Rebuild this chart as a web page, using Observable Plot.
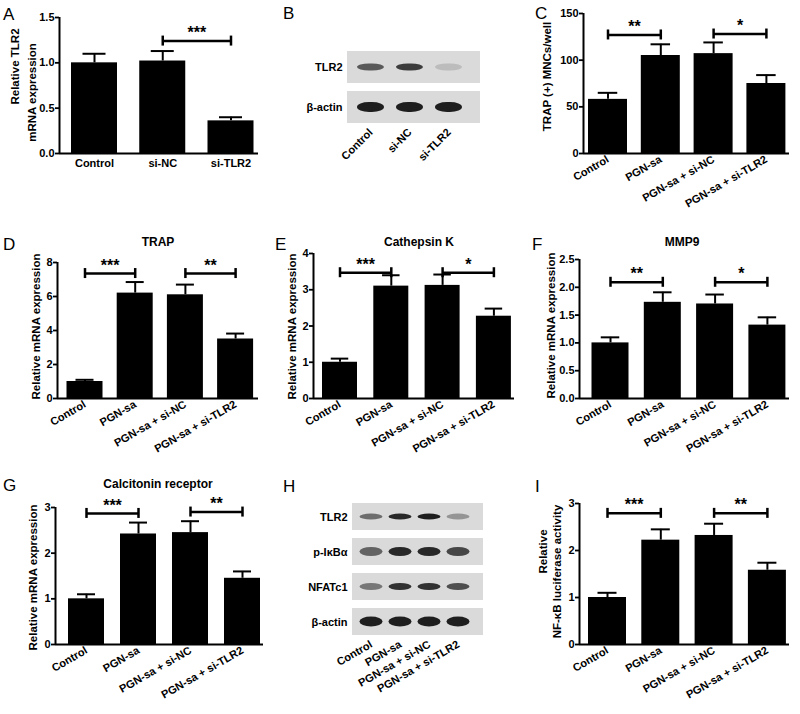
<!DOCTYPE html>
<html><head><meta charset="utf-8">
<script src="https://cdn.jsdelivr.net/npm/d3@7"></script>
<script src="https://cdn.jsdelivr.net/npm/@observablehq/plot@0.6"></script>
<style>
body{margin:0;background:#fff;}
#fig{position:relative;width:800px;height:714px;overflow:hidden;background:#fff;font-family:"Liberation Sans",Arial,sans-serif;color:#000;}
.cell{position:absolute;}
.cell svg{display:block;}
.letter{position:absolute;font-size:17px;line-height:17px;}
.title{position:absolute;width:200px;text-align:center;font-weight:bold;font-size:12px;line-height:14px;}
g[aria-label^="y-axis"] line, g[aria-label^="y-axis"] path{stroke-width:1.8px;}
</style></head><body><div id="fig"></div>
<script>
// ---------------- data ----------------
const groups3 = ["Control", "si-NC", "si-TLR2"];
const groups4 = ["Control", "PGN-sa", "PGN-sa + si-NC", "PGN-sa + si-TLR2"];

const tlr2Mean = [1.00, 1.02, 0.36];
const tlr2Err  = [0.10, 0.11, 0.04];
const trapCellMean = [58, 105, 107, 75];
const trapCellErr  = [7, 12, 12, 9];
const trapMean = [1.0, 6.2, 6.1, 3.5];
const trapErr  = [0.1, 0.65, 0.6, 0.32];
const ctskMean = [1.0, 3.1, 3.12, 2.27];
const ctskErr  = [0.1, 0.3, 0.3, 0.21];
const mmp9Mean = [1.0, 1.73, 1.70, 1.32];
const mmp9Err  = [0.1, 0.18, 0.17, 0.14];
const calcrMean = [1.0, 2.42, 2.45, 1.45];
const calcrErr  = [0.1, 0.25, 0.25, 0.15];
const nfkbMean = [1.0, 2.22, 2.32, 1.58];
const nfkbErr  = [0.1, 0.23, 0.25, 0.16];

// significance brackets: [from group, to group, bracket height, label]
const sigA = [[1, 2, 1.24, "***"]];
const sigC = [[0, 1, 127, "**"], [2, 3, 128, "*"]];
const sigD = [[0, 1, 7.35, "***"], [2, 3, 7.35, "**"]];
const sigE = [[0, 1, 3.47, "***"], [2, 3, 3.47, "*"]];
const sigF = [[0, 1, 2.09, "**"], [2, 3, 2.09, "*"]];
const sigG = [[0, 1, 2.87, "***"], [2, 3, 2.9, "**"]];
const sigI = [[0, 1, 2.79, "***"], [2, 3, 2.79, "**"]];

// y tick values
const ticksA = [0, 0.5, 1.0, 1.5];
const ticksC = [0, 50, 100, 150];
const ticksD = [0, 2, 4, 6, 8];
const ticksE = [0, 1, 2, 3, 4];
const ticksF = [0, 0.5, 1.0, 1.5, 2.0, 2.5];
const ticksG = [0, 1, 2, 3];
const ticksI = [0, 1, 2, 3];

// western blots: band darkness (0..1), rows x lanes
const blotBRows = ["TLR2", "β-actin"];
const blotBBands = [[0.65, 0.8, 0.15], [0.95, 0.95, 0.95]];
const blotHRows = ["TLR2", "p-IκBα", "NFATc1", "β-actin"];
const blotHBands = [[0.55, 0.9, 0.95, 0.35], [0.6, 0.9, 0.9, 0.75], [0.5, 0.85, 0.85, 0.7], [0.95, 0.95, 0.95, 0.95]];

// ---------------- layout ----------------
const fig = document.getElementById("fig");
const FONT = "'Liberation Sans', Arial, sans-serif";
const plotStyle = {background: "transparent", fontFamily: FONT, fontSize: "11px", fontWeight: "bold", overflow: "visible", color: "black"};

function place(node, L, T) {
  const div = document.createElement("div");
  div.className = "cell";
  div.style.left = L + "px"; div.style.top = T + "px";
  div.appendChild(node);
  fig.appendChild(div);
}

function barPanel(p) {
  const [L, T, W, H] = p.cell;
  const [fl, fr, ft, fb] = p.frame;
  const s = p.step, c0 = p.c0, hw = p.barW / (2 * s);
  const xDomain = [(fl - c0) / s, (fr - c0) / s];
  const pxPerUnit = (fb - ft) / (p.yDomain[1] - p.yDomain[0]);
  const tickLen = 5 / pxPerUnit;
  const data = p.cats.map((c, i) => ({i, c, v: p.mean[i], e: p.err[i]}));
  const sig = p.sig.map(([a, b, y, label]) => ({a, b, y, label}));
  const ends = sig.flatMap(g => [{x: g.a, y: g.y}, {x: g.b, y: g.y}]);
  const fcy = (ft + fb) / 2;
  const ylab = p.ylab.map(([text, cx, cy]) => Plot.text([text], {
    frameAnchor: "left", textAnchor: "middle", lineAnchor: "middle", text: t => t, rotate: -90,
    dx: cx - fl, dy: cy - fcy, fontSize: 11.5, fontWeight: "bold"
  }));
  const svg = Plot.plot({
    width: W, height: H,
    marginLeft: fl - L, marginRight: L + W - fr, marginTop: ft - T, marginBottom: T + H - fb,
    style: plotStyle,
    x: {type: "linear", domain: xDomain, ticks: d3.range(p.cats.length), tickFormat: i => p.cats[i],
        tickSize: 0, tickPadding: p.rotate ? 5 : 6, tickRotate: p.rotate || 0, label: null},
    y: {domain: p.yDomain, ticks: p.yTicks, tickFormat: p.fmt, tickSize: 4, tickPadding: 1, label: null},
    marks: [
      Plot.rect(data, {x1: d => d.i - hw, x2: d => d.i + hw, y1: 0, y2: "v", fill: "black"}),
      Plot.ruleX(data, {x: "i", y1: "v", y2: d => d.v + d.e, strokeWidth: 2}),
      Plot.ruleY(data, {x1: d => d.i - hw * 0.5, x2: d => d.i + hw * 0.5, y: d => d.v + d.e, strokeWidth: 2}),
      Plot.ruleX([xDomain[0]], {strokeWidth: 2}),
      Plot.ruleY([0], {strokeWidth: 2}),
      Plot.ruleY(sig, {x1: "a", x2: "b", y: "y", strokeWidth: 2.5}),
      Plot.ruleX(ends, {x: "x", y1: d => d.y - tickLen, y2: d => d.y + tickLen, strokeWidth: 2.5}),
      Plot.text(sig, {x: d => (d.a + d.b) / 2, y: "y", text: "label", dy: -8, fontSize: 16, fontWeight: "bold"}),
      ...ylab
    ]
  });
  place(svg, L, T);
}

let blurId = 0;
function blotPanel(p) {
  const [L, T, W, H] = p.cell;
  const [fl, fr, ft, fb] = p.frame;
  const bands = p.rows.flatMap((r, ri) => p.lanes.map((l, li) => ({row: r, lane: l, v: p.bands[ri][li]})));
  const svg = Plot.plot({
    width: W, height: H,
    marginLeft: fl - L, marginRight: L + W - fr, marginTop: ft - T, marginBottom: T + H - fb,
    style: plotStyle,
    x: {domain: p.lanes, range: [p.laneRange[0] - L, p.laneRange[1] - L], paddingInner: p.lanePad, paddingOuter: 0,
        tickSize: 0, tickPadding: p.tickPad, tickRotate: p.rotate, label: null},
    y: {domain: p.rows, paddingInner: p.rowPad, paddingOuter: 0, tickSize: 0, tickPadding: 5, label: null},
    opacity: {domain: [0, 1], range: [0, 1]},
    marks: [
      Plot.cell(p.rows, {y: r => r, fill: "#dadada"}),
      ...p.rows.map((r, ri) => Plot.cell(bands.filter(b => b.row === r), {
        x: "lane", y: "row", fill: "#141414", fillOpacity: "v",
        insetTop: p.bandInset[ri], insetBottom: p.bandInset[ri], insetLeft: p.bandSide, insetRight: p.bandSide,
        rx: 12, ry: 6, ariaLabel: "band"
      }))
    ]
  });
  const id = "blur" + (blurId++);
  const defs = document.createElementNS("http://www.w3.org/2000/svg", "defs");
  defs.innerHTML = `<filter id="${id}" x="-30%" y="-80%" width="160%" height="260%"><feGaussianBlur stdDeviation="1.4"/></filter>`;
  svg.insertBefore(defs, svg.firstChild);
  svg.querySelectorAll('g[aria-label="band"]').forEach(g => g.setAttribute("filter", `url(#${id})`));
  place(svg, L, T);
}

// panel A
barPanel({cell: [0, 0, 267, 230], frame: [59, 258, 17, 153], c0: 94, step: 68.25, barW: 46,
  cats: groups3, mean: tlr2Mean, err: tlr2Err, yDomain: [0, 1.5], yTicks: ticksA, fmt: ".1f", sig: sigA,
  ylab: [["Relative TLR2", 15, 66], ["mRNA expression", 32, 92]]});
// panel B
blotPanel({cell: [267, 0, 266, 230], frame: [347, 480, 50, 124], rows: blotBRows, lanes: groups3, bands: blotBBands,
  laneRange: [353, 466], lanePad: 0.15, rowPad: 0.195, bandInset: [12.5, 11], bandSide: 3, rotate: -45, tickPad: 6});
// panel C
barPanel({cell: [533, 0, 267, 230], frame: [583, 789, 13, 153], c0: 607.5, step: 52.8, barW: 39,
  cats: groups4, mean: trapCellMean, err: trapCellErr, yDomain: [0, 150], yTicks: ticksC, fmt: "d", sig: sigC,
  rotate: -30, ylab: [["TRAP (+) MNCs/well", 547, 76]]});
// panel D
barPanel({cell: [0, 230, 267, 240], frame: [57, 258, 262, 398], c0: 84.5, step: 50.2, barW: 36,
  cats: groups4, mean: trapMean, err: trapErr, yDomain: [0, 8], yTicks: ticksD, fmt: "d", sig: sigD,
  rotate: -30, ylab: [["Relative mRNA expression", 36, 326]]});
// panel E
barPanel({cell: [267, 230, 266, 240], frame: [313, 514, 253, 398], c0: 339.5, step: 51.3, barW: 35,
  cats: groups4, mean: ctskMean, err: ctskErr, yDomain: [0, 4], yTicks: ticksE, fmt: "d", sig: sigE,
  rotate: -30, ylab: [["Relative mRNA expression", 292, 326]]});
// panel F
barPanel({cell: [533, 230, 267, 240], frame: [579, 789, 259, 398], c0: 610, step: 52.3, barW: 37,
  cats: groups4, mean: mmp9Mean, err: mmp9Err, yDomain: [0, 2.5], yTicks: ticksF, fmt: ".1f", sig: sigF,
  rotate: -30, ylab: [["Relative mRNA expression", 551, 325]]});
// panel G
barPanel({cell: [0, 470, 267, 244], frame: [55, 263, 507, 644], c0: 86, step: 52, barW: 36,
  cats: groups4, mean: calcrMean, err: calcrErr, yDomain: [0, 3], yTicks: ticksG, fmt: "d", sig: sigG,
  rotate: -30, ylab: [["Relative mRNA expression", 33, 577]]});
// panel H
blotPanel({cell: [267, 470, 266, 244], frame: [352, 483, 502, 637], rows: blotHRows, lanes: groups4, bands: blotHBands,
  laneRange: [358, 472], lanePad: 0.1, rowPad: 0.215, bandInset: [10.5, 9, 10, 8.5], bandSide: 1.5, rotate: -30, tickPad: 6});
// panel I
barPanel({cell: [533, 470, 267, 244], frame: [579, 789, 503, 644], c0: 607, step: 53.3, barW: 38,
  cats: groups4, mean: nfkbMean, err: nfkbErr, yDomain: [0, 3], yTicks: ticksI, fmt: "d", sig: sigI,
  rotate: -30, ylab: [["Relative", 543, 551], ["NF-κB luciferase activity", 557, 571]]});

// panel letters and titles
const letters = [["A", 3, 6], ["B", 283, 5], ["C", 535, 5], ["D", 3, 236], ["E", 275, 236], ["F", 532, 236], ["G", 3, 477], ["H", 283, 478], ["I", 535, 478]];
letters.forEach(([t, x, y]) => {
  const d = document.createElement("div");
  d.className = "letter"; d.textContent = t;
  d.style.left = x + "px"; d.style.top = y + "px";
  fig.appendChild(d);
});
const titles = [["TRAP", 158, 242], ["Cathepsin K", 419, 242], ["MMP9", 682, 242], ["Calcitonin receptor", 158, 484]];
titles.forEach(([t, cx, cy]) => {
  const d = document.createElement("div");
  d.className = "title"; d.textContent = t;
  d.style.left = (cx - 100) + "px"; d.style.top = (cy - 7) + "px";
  fig.appendChild(d);
});
</script></body></html>
